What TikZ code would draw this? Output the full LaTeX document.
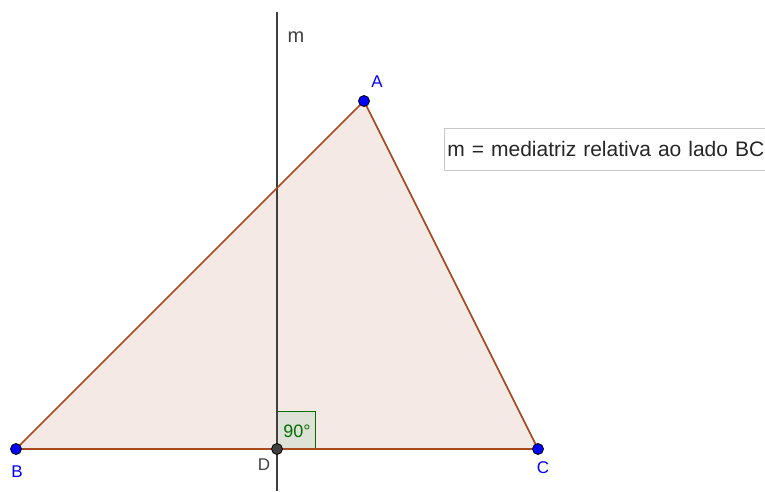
\documentclass[tikz,border=0pt]{standalone}
\usepackage{fontspec}
\setmainfont{Liberation Sans}
\usetikzlibrary{positioning,calc}
\definecolor{GeoBrown}{RGB}{168,74,30}
\definecolor{GeoFill}{RGB}{244,233,228}
\definecolor{GeoBlue}{RGB}{0,0,255}
\definecolor{GeoGreen}{RGB}{0,110,0}
\definecolor{GeoAngle}{RGB}{222,226,214}
\definecolor{GeoGrey}{gray}{0.25}
\definecolor{GeoFrame}{gray}{0.78}

\begin{document}
\begin{tikzpicture}[x=1pt,y=-1pt,
  vertex/.style={circle,draw=black,fill=GeoBlue,inner sep=0pt,minimum size=11pt,line width=0.8pt},
  lbl/.style={text=GeoBlue,font=\fontsize{17}{19}\selectfont,inner sep=0pt},
  side/.style={draw=GeoBrown,line width=1.6pt},
  mline/.style={draw=GeoGrey,line width=1.6pt}]
  \useasboundingbox (0,0) rectangle (765,491);
  % triangle
  \coordinate (A) at (364,101);
  \coordinate (B) at (16,449);
  \coordinate (C) at (538,449);
  \coordinate (D) at (277,449);
  \coordinate (mtop) at (277,12);
  \coordinate (mbot) at (277,491);
  \fill[GeoFill] (A)--(B)--(C)--cycle;
  \draw[GeoGreen,fill=GeoAngle,line width=0.8pt] (D) rectangle (315,411);
  \node[text=GeoGreen,font=\fontsize{18}{20}\selectfont,inner sep=0pt] (ang) at (297,431) {90°};
  \draw[mline] (mtop)--(mbot);
  \draw[side] (A)--(B)--(C)--cycle;
  \node[vertex] (pA) at (A) {};
  \node[vertex] (pB) at (B) {};
  \node[vertex] (pC) at (C) {};
  \node[vertex,fill=GeoGrey] (pD) at (D) {};
  \node[lbl] (lA) at (377,82) {A};
  \node[lbl] (lB) at (17,472) {B};
  \node[lbl] (lC) at (543,468) {C};
  \node[lbl,text=GeoGrey] (lD) at (264,465) {D};
  \node[font=\fontsize{20}{22}\selectfont,text=GeoGrey,inner sep=0pt] (lm) at (296,37) {m};
  \node[draw=GeoFrame,line width=0.8pt,anchor=north west,minimum height=42pt,minimum width=335pt,
    inner xsep=3pt,text=black!85,font=\fontsize{21}{23}\selectfont,align=left,text width=329pt] (note) at (444,128) {m = mediatriz relativa ao lado BC};
\end{tikzpicture}
\end{document}
